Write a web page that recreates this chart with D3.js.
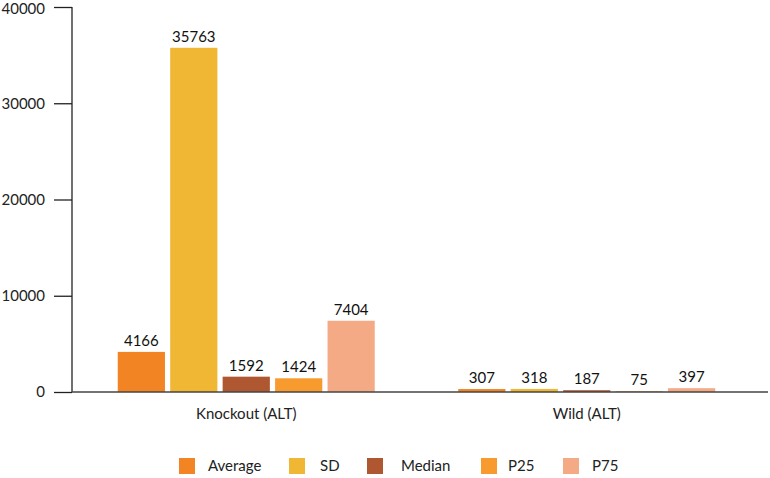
<!DOCTYPE html>
<html>
<head>
<meta charset="utf-8">
<script src="https://cdn.jsdelivr.net/npm/d3@7"></script>
<style>
  body { margin: 0; background: #fff; }
  svg { font-family: Lato, "Open Sans", sans-serif; }
</style>
</head>
<body>
<svg id="chart"></svg>
<script>
const groups = ["Knockout (ALT)", "Wild (ALT)"];
const series = ["Average", "SD", "Median", "P25", "P75"];
const colors = ["#F28423", "#F0B735", "#AE5731", "#F79B2E", "#F5AA86"];
const knockoutValues = [4166, 35763, 1592, 1424, 7404];
const wildValues = [307, 318, 187, 75, 397];
const yTicks = [0, 10000, 20000, 30000, 40000];

const width = 770, height = 478;
const svg = d3.select("#chart").attr("width", width).attr("height", height);

const rows = [knockoutValues, wildValues];

// scales
const y = d3.scaleLinear().domain([0, 40000]).range([392, 7]);
const x0 = d3.scaleBand().domain(groups).range([76, 757]);
const x1 = d3.scaleBand().domain(series).range([0, 257]).paddingInner(0.1);
const color = d3.scaleOrdinal().domain(series).range(colors);

// y axis
const yAxis = svg.append("g")
	.attr("transform", "translate(72,0)")
	.call(d3.axisLeft(y).tickValues(yTicks).tickSize(18).tickPadding(9).tickFormat(d3.format("d")));
yAxis.selectAll("line, path").attr("stroke", "#222").attr("stroke-width", 1.3);
yAxis.select(".domain").attr("d", "M0,7V392");
yAxis.selectAll("text").style("font-size", "15px").attr("fill", "#222").attr("font-family", "Lato, 'Open Sans', sans-serif");
yAxis.selectAll(".tick text").filter((d) => d === 40000).attr("dy", "0.42em");

// bars
const groupG = svg.selectAll("g.group")
	.data(groups)
	.join("g")
	.attr("class", "group")
	.attr("transform", (g) => `translate(${x0(g) + (x0.bandwidth() - 257) / 2},0)`);

groupG.selectAll("rect")
	.data((g, i) => series.map((s, j) => ({ s, v: rows[i][j] })))
	.join("rect")
	.attr("x", (d) => x1(d.s))
	.attr("y", (d) => y(d.v))
	.attr("width", x1.bandwidth())
	.attr("height", (d) => y(0) - y(d.v))
	.attr("fill", (d) => color(d.s));

groupG.selectAll("text.val")
	.data((g, i) => series.map((s, j) => ({ s, v: rows[i][j] })))
	.join("text")
	.attr("class", "val")
	.attr("x", (d) => x1(d.s) + x1.bandwidth() / 2)
	.attr("y", (d) => y(d.v) - 6)
	.attr("text-anchor", "middle")
	.style("font-size", "15px")
	.attr("fill", "#111")
	.text((d) => d.v);

// x axis line
svg.append("line")
	.attr("x1", 72).attr("x2", 768)
	.attr("y1", y(0)).attr("y2", y(0))
	.attr("stroke", "#444").attr("stroke-width", 1.5);

// category labels
svg.selectAll("text.cat")
	.data(groups)
	.join("text")
	.attr("class", "cat")
	.attr("x", (g) => x0(g) + x0.bandwidth() / 2)
	.attr("y", 419)
	.attr("text-anchor", "middle")
	.style("font-size", "15px")
	.attr("fill", "#222")
	.text((g) => g);

// legend
const legendX = [179, 289, 367, 481, 563];
const legend = svg.selectAll("g.legend")
	.data(series)
	.join("g")
	.attr("class", "legend")
	.attr("transform", (d, i) => `translate(${legendX[i]},458)`);
legend.append("rect")
	.attr("width", 16).attr("height", 16)
	.attr("fill", (d) => color(d));
legend.append("text")
	.attr("x", (d, i) => [29, 31, 34, 27, 29][i])
	.attr("y", 13)
	.style("font-size", "15px")
	.attr("fill", "#222")
	.text((d) => d);
</script>
</body>
</html>
